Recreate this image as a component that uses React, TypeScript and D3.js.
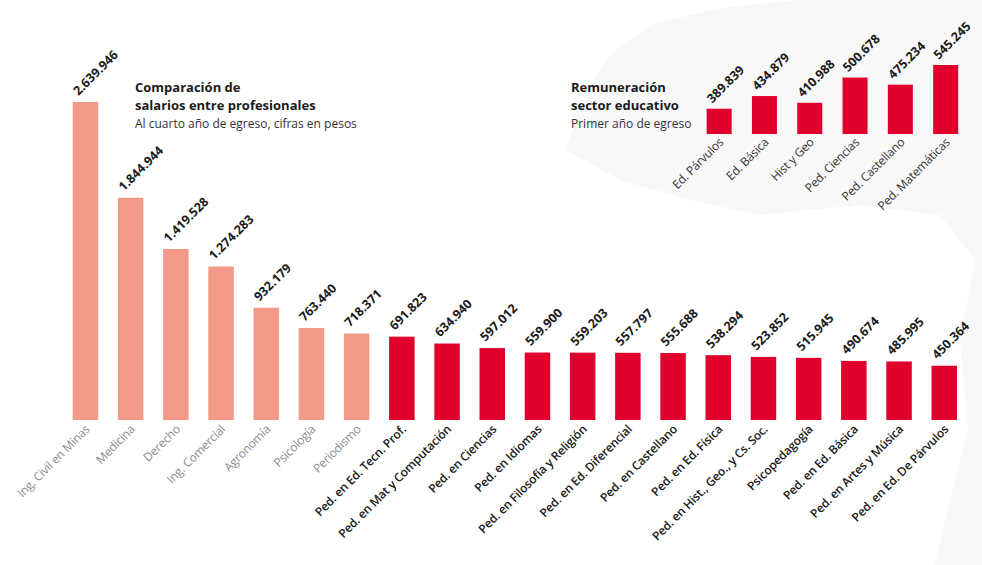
import React from "react";
import * as d3 from "d3";

const mainCategories = [
  "Ing. Civil en Minas",
  "Medicina",
  "Derecho",
  "Ing. Comercial",
  "Agronomía",
  "Psicología",
  "Periodismo",
  "Ped. en Ed. Tecn. Prof.",
  "Ped. en Mat y Computación",
  "Ped. en Ciencias",
  "Ped. en Idiomas",
  "Ped. en Filosofía y Religión",
  "Ped. en Ed. Diferencial",
  "Ped. en Castellano",
  "Ped. en Ed. Física",
  "Ped. en Hist., Geo., y Cs. Soc.",
  "Psicopedagogía",
  "Ped. en Ed. Básica",
  "Ped. en Artes y Música",
  "Ped. en Ed. De Párvulos",
];
const mainValues = [
  2639946, 1844944, 1419528, 1274283, 932179, 763440, 718371, 691823, 634940,
  597012, 559900, 559203, 557797, 555688, 538294, 523852, 515945, 490674,
  485995, 450364,
];
const mainIsPedagogia = [
  false, false, false, false, false, false, false, true, true, true, true,
  true, true, true, true, true, true, true, true, true,
];

const insetCategories = [
  "Ed. Párvulos",
  "Ed. Básica",
  "Hist y Geo",
  "Ped. Ciencias",
  "Ped. Castellano",
  "Ped. Matemáticas",
];
const insetValues = [389839, 434879, 410988, 500678, 475234, 545245];

const mainTitle = ["Comparación de", "salarios entre profesionales"];
const mainSubtitle = "Al cuarto año de egreso, cifras en pesos";
const insetTitle = ["Remuneración", "sector educativo"];
const insetSubtitle = "Primer año de egreso";

const W = 982;
const H = 565;
const FONT = "'Open Sans', 'DejaVu Sans', sans-serif";
const PINK = "#F29A87";
const RED = "#E0002C";

const locale = d3.formatLocale({
  decimal: ",",
  thousands: ".",
  grouping: [3],
  currency: ["$", ""],
});
const fmt = locale.format(",d");

function TitleBlock({ x, lines, sub }: { x: number; lines: string[]; sub: string }) {
  return (
    <g fontFamily={FONT}>
      {lines.map((t, i) => (
        <text key={t} x={x} y={92 + i * 18} fontWeight={700} fontSize={13} fill="#1a1a1a">
          {t}
        </text>
      ))}
      <text x={x} y={128} fontSize={12} fill="#333">
        {sub}
      </text>
    </g>
  );
}

export default function App() {
  const x = d3
    .scaleBand<string>()
    .domain(mainCategories)
    .range([62.85, 966.85])
    .paddingInner(0.436)
    .paddingOuter(0.218);
  const y = d3
    .scaleLinear()
    .domain([0, d3.max(mainValues) as number])
    .range([420, 102]);

  const xi = d3
    .scaleBand<string>()
    .domain(insetCategories)
    .range([696.5, 968.3])
    .paddingInner(0.448)
    .paddingOuter(0.224);
  const yi = d3.scaleLinear().domain([300000, 545245]).range([134, 65]);

  const bgPath =
    "M565,150 L585,95 L610,55 L650,25 L720,8 L800,0 L982,0 L982,565 L935,565 L950,500 L968,430 L960,340 L975,260 L940,215 L860,205 L760,215 L690,200 L620,180 Z";

  return (
    <div style={{ position: "absolute", left: 0, top: 0, width: W, height: H }}>
      <svg width={W} height={H} style={{ display: "block", background: "#fff" }}>
        <path d={bgPath} fill="#f2f2f2" opacity={0.55} />

        {/* Main bars */}
        {mainCategories.map((c, i) => {
          const bx = x(c) as number;
          const by = y(mainValues[i]);
          const cx = bx + x.bandwidth() / 2;
          return (
            <g key={c}>
              <rect
                x={bx}
                y={by}
                width={x.bandwidth()}
                height={y(0) - by}
                fill={mainIsPedagogia[i] ? RED : PINK}
              />
              <text
                transform={`translate(${cx - 7},${by - 6}) rotate(-45)`}
                fontFamily={FONT}
                fontWeight={700}
                fontSize={12.5}
                fill="#1a1a1a"
              >
                {fmt(mainValues[i])}
              </text>
              <text
                transform={`translate(${cx + 5},${y(0) + 10}) rotate(-45)`}
                textAnchor="end"
                fontFamily={FONT}
                fontWeight={mainIsPedagogia[i] ? 600 : 400}
                fontSize={12}
                letterSpacing={-0.2}
                fill={mainIsPedagogia[i] ? "#1a1a1a" : "#8a8a8a"}
              >
                {c}
              </text>
            </g>
          );
        })}

        <TitleBlock x={135} lines={mainTitle} sub={mainSubtitle} />
        <TitleBlock x={571} lines={insetTitle} sub={insetSubtitle} />

        {/* Inset bars */}
        {insetCategories.map((c, i) => {
          const bx = xi(c) as number;
          const by = yi(insetValues[i]);
          const cx = bx + xi.bandwidth() / 2;
          return (
            <g key={c}>
              <rect
                x={bx}
                y={by}
                width={xi.bandwidth()}
                height={yi(300000) - by}
                fill={RED}
              />
              <text
                transform={`translate(${cx - 7},${by - 5}) rotate(-45)`}
                fontFamily={FONT}
                fontWeight={700}
                fontSize={12.5}
                fill="#1a1a1a"
              >
                {fmt(insetValues[i])}
              </text>
              <text
                transform={`translate(${cx + 5},${yi(300000) + 9}) rotate(-45)`}
                textAnchor="end"
                fontFamily={FONT}
                fontSize={12}
                letterSpacing={-0.2}
                fill="#333"
              >
                {c}
              </text>
            </g>
          );
        })}
      </svg>
    </div>
  );
}
